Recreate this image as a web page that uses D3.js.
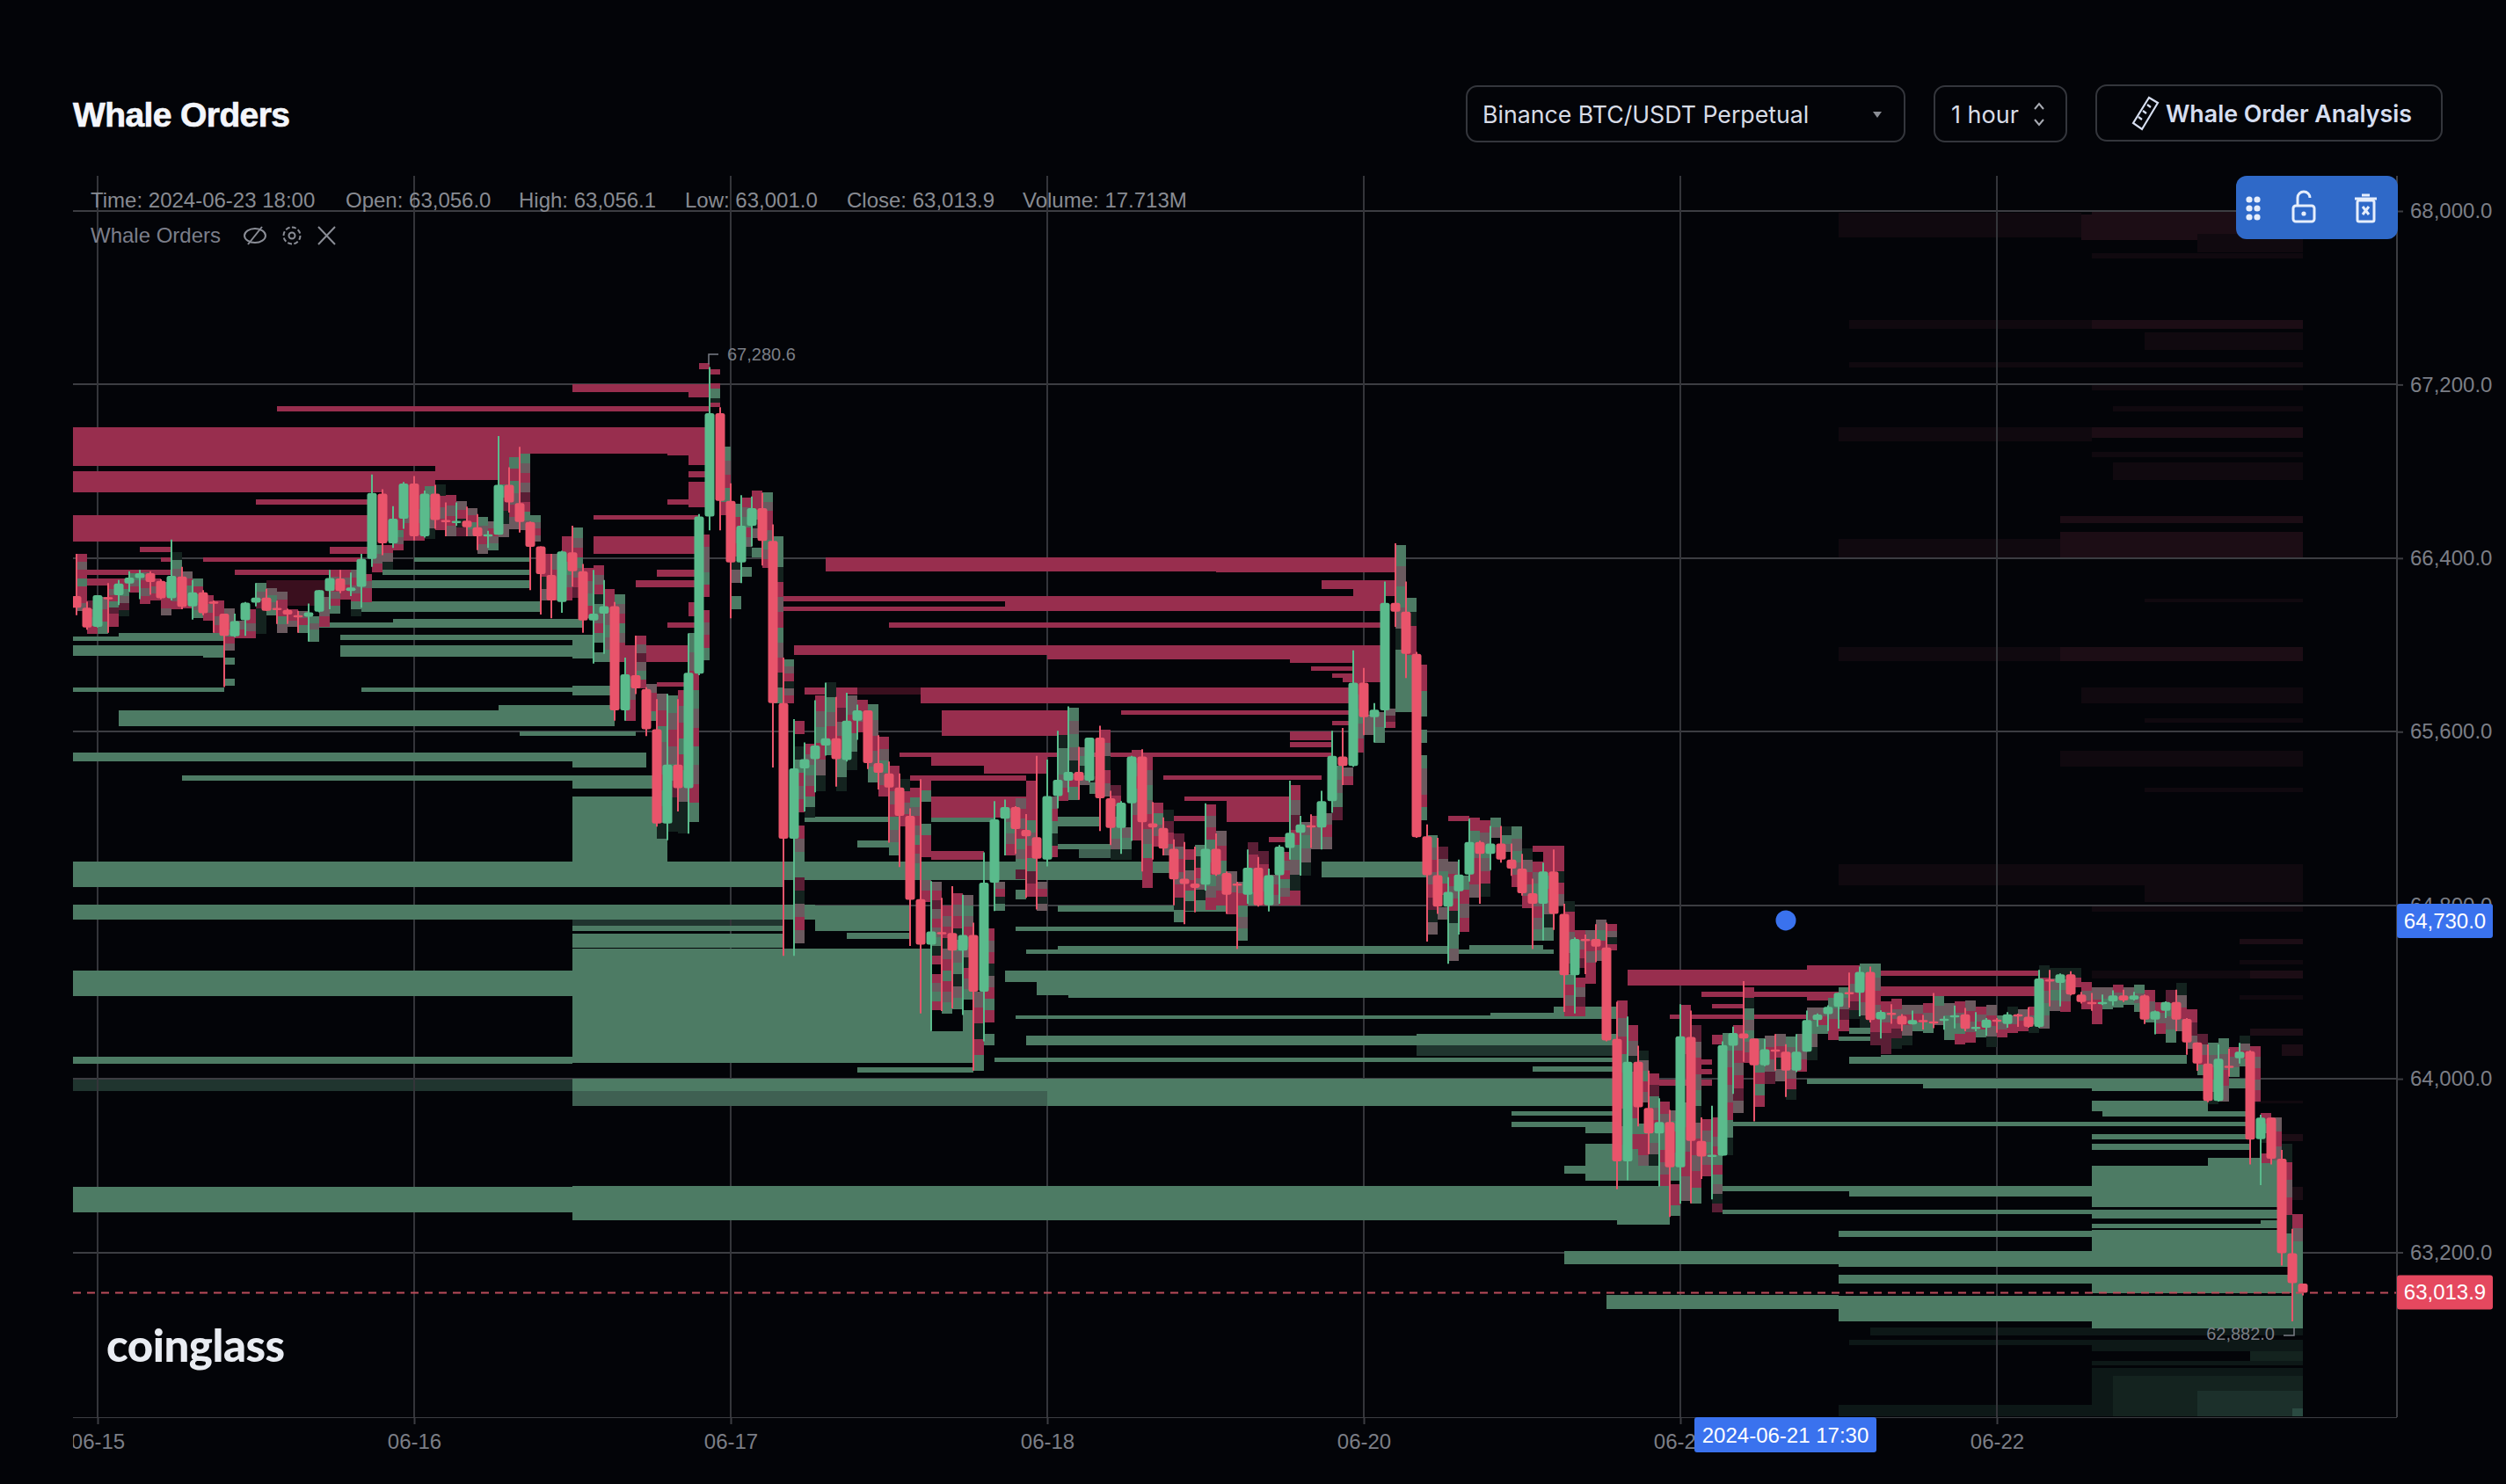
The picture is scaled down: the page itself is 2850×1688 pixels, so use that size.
<!DOCTYPE html>
<html>
<head>
<meta charset="utf-8">
<title>Whale Orders</title>
<script src="https://d3js.org/d3.v7.min.js"></script>
<style>
  html, body { margin: 0; background: #030408; }
  text { font-family: "Liberation Sans", sans-serif; }
</style>
</head>
<body>
<div id="chart"></div>
<script>
// date ticks sit on these bars, the feed skips 06-19
const tickLabels = ["06-15", "06-16", "06-17", "06-18", "06-20", "06-21", "06-22"];
const tickBars = [2, 32, 62, 92, 122, 152, 182];
const priceTicks = [68000, 67200, 66400, 65600, 64800, 64000, 63200];

// open, high, low, close, one row per bar
const candles = [
[66225,66420,66137,66171],[66171,66200,66070,66080],[66083,66229,66080,66229],[66220,66285,66056,66210],[66229,66299,66184,66283],
[66283,66340,66245,66310],[66308,66346,66211,66330],[66330,66340,66231,66290],[66295,66302,66211,66215],[66215,66485,66205,66318],
[66315,66360,66164,66175],[66177,66299,66117,66242],[66242,66252,66137,66146],[66200,66205,66056,66190],[66144,66144,65806,66042],
[66040,66144,66036,66110],[66114,66198,66042,66195],[66195,66285,66177,66218],[66218,66258,66157,66157],[66170,66204,66096,66160],
[66161,66167,66096,66140],[66137,66157,66056,66130],[66130,66191,66015,66150],[66153,66252,66150,66252],[66248,66346,66164,66308],
[66306,66346,66238,66248],[66248,66333,66225,66265],[66268,66420,66171,66396],[66396,66785,66360,66700],[66697,66717,66414,66468],
[66468,66639,66447,66582],[66582,66751,66535,66744],[66744,66778,66481,66501],[66501,66711,66495,66697],[66697,66738,66535,66576],
[66576,66657,66501,66569],[66566,66657,66549,66572],[66573,66637,66501,66542],[66542,66603,66437,66501],[66504,66526,66447,66510],
[66508,66963,66508,66738],[66738,66819,66610,66657],[66654,66913,66518,66566],[66566,66569,66252,66452],[66454,66454,66140,66326],
[66322,66420,66123,66205],[66198,66434,66148,66431],[66427,66549,66269,66340],[66340,66373,66056,66113],[66113,66346,65914,66144],
[66144,66299,65959,66178],[66178,66198,65651,65698],[65698,65941,65651,65864],[65860,66043,65773,65800],[65797,65805,65580,65611],
[65611,65750,65162,65177],[65177,65774,65100,65448],[65448,65750,65232,65340],[65340,66053,65130,65872],[65867,66603,65860,66592],
[66592,67280.6,66528,67068],[67068,67095,66528,66664],[66664,66745,66123,66380],[66380,66690,66285,66549],[66549,66684,66454,66630],
[66630,66700,66366,66479],[66479,66555,65435,65732],[65732,65941,64567,65107],[65107,65658,64567,65431],[65431,65550,65232,65473],
[65473,65745,65320,65536],[65536,65826,65490,65570],[65570,65760,65347,65473],[65469,65779,65462,65651],[65651,65725,65563,65698],
[65698,65698,65428,65455],[65455,65584,65334,65411],[65408,65462,65088,65343],[65343,65408,64976,65212],[65212,65246,64612,64825],
[64828,65381,64301,64618],[64618,64911,64220,64679],[64676,64834,64312,64668],[64672,64888,64325,64591],[64591,64848,64294,64663],
[64663,64720,64038,64402],[64402,65044,64173,64904],[64904,65280,64773,65196],[65199,65287,65030,65253],[65253,65257,65037,65151],
[65147,65220,64834,65118],[65114,65489,64780,65014],[65010,65471,64979,65303],[65303,65604,65246,65378],[65374,65716,65320,65415],
[65415,65530,65286,65374],[65374,65573,65367,65573],[65573,65627,65142,65293],[65293,65327,65077,65156],[65156,65280,65037,65273],
[65270,65489,65097,65486],[65486,65519,64956,65183],[65178,65276,65010,65158],[65156,65205,65030,65061],[65060,65104,64800,64919],
[64922,65091,64713,64898],[64900,65070,64767,64880],[64895,65270,64868,65060],[65060,65131,64935,64942],[64949,64956,64760,64848],
[64900,64908,64598,64895],[64848,65057,64807,64973],[64973,65023,64794,64800],[64800,64969,64771,64938],[64938,65077,64807,65070],
[65064,65374,65010,65134],[65134,65212,64936,65172],[65168,65219,65064,65160],[65158,65327,65057,65280],[65280,65604,65226,65489],
[65486,65617,65354,65442],[65442,65975,65438,65826],[65826,65894,65584,65667],[65667,65732,65550,65701],[65698,66292,65617,66194],
[66194,66468,66083,66153],[66153,66292,65847,65959],[65959,65968,65111,65114],[65118,65172,64632,64938],[64938,65111,64760,64794],
[64794,64929,64530,64861],[64865,65010,64665,64942],[64942,65199,64909,65091],[65091,65098,64807,65037],[65037,65165,64962,65084],
[65084,65165,64996,65010],[65010,65084,64935,64969],[64969,65037,64844,64855],[64855,64922,64598,64807],[64807,64996,64638,64956],
[64956,65057,64686,64760],[64760,64807,64308,64477],[64477,64652,64301,64645],[64645,64665,64483,64638],[64645,64713,64537,64609],
[64605,64720,64173,64177],[64184,64355,63491,63619],[63619,64287,63532,64078],[64078,64152,63781,63869],[63866,64038,63653,63748],
[63748,63910,63504,63801],[63801,63856,63363,63592],[63592,64344,63424,64196],[64193,64314,63426,63714],[63714,63822,63538,63642],
[63645,63876,63444,63650],[63646,64173,63646,64155],[64152,64240,63930,64211],[64209,64450,64078,64186],[64186,64186,63804,64062],
[64062,64184,64058,64136],[64135,64206,64038,64130],[64125,64159,63916,64038],[64038,64206,64031,64125],[64125,64314,64125,64271],
[64271,64301,64240,64296],[64298,64339,64220,64332],[64332,64396,64231,64396],[64400,64490,64328,64392],[64396,64517,64288,64493],
[64493,64517,64260,64271],[64274,64315,64186,64308],[64304,64344,64254,64297],[64290,64298,64220,64251],[64251,64314,64251,64271],
[64271,64294,64227,64266],[64265,64395,64233,64258],[64269,64289,64226,64277],[64284,64338,64232,64293],[64297,64327,64219,64230],
[64232,64307,64219,64239],[64235,64280,64199,64273],[64273,64280,64212,64265],[64253,64307,64235,64297],[64297,64300,64239,64292],
[64286,64330,64235,64239],[64239,64502,64235,64462],[64458,64502,64334,64449],[64442,64486,64334,64482],[64482,64496,64384,64388],
[64388,64401,64347,64354],[64354,64395,64313,64349],[64349,64388,64340,64354],[64357,64408,64338,64384],[64384,64411,64354,64361],
[64365,64401,64361,64384],[64384,64388,64253,64273],[64273,64314,64205,64311],[64313,64357,64280,64354],[64354,64411,64219,64273],
[64276,64280,64111,64168],[64168,64168,64037,64070],[64070,64158,63892,63898],[63898,64158,63895,64093],[64060,64138,64010,64050],
[64095,64165,64070,64125],[64127,64131,63605,63720],[63722,63834,63510,63821],[63821,63821,63605,63632],[63632,63672,63139,63196],
[63196,63308,62882,63058],[63056,63056.1,63001,63013.9]
];

// whale orders: start bar, end bar, top price, bottom price
const redOrders = [
[47,60,67200,67167],[58,60,67167,67141],[19,60,67101,67077],[59,60,67300,67270],
[-1,60,67004,66882],[-1,43,66882,66825],[34,43,66882,66758],[-1,34,66801,66704],[29,33,66704,66480],
[-1,28,66598,66477],[17,28,66670,66647],[6,9,66452,66427],[24,28,66452,66420],[12,27,66404,66383],[8,9,66404,66383],
[15,24,66346,66323],[1,9,66346,66323],[0,5,66306,66275],
[56,60,66882,66873],[58,60,66873,66830],[58,60,66801,66771],[58,60,66751,66634],[56,58,66670,66647],
[49,59,66596,66576],[49,59,66501,66420],[55,59,66346,66315],[53,59,66299,66265],[58,59,66198,66130],[56,59,66103,66080],
[52,58,65999,65921],[55,58,65829,65806],
[71,125,66404,66340],[108,125,66340,66333],[67,88,66224,66201],[67,88,66178,66155],[88,124,66224,66155],
[118,125,66299,66258],[121,125,66258,66225],[77,124,66103,66080],
[68,124,65998,65953],[92,124,65953,65935],[115,124,65935,65918],[117,121,65901,65880],[119,121,65867,65847],[120,121,65847,65826],[121,124,65918,65826],
[80,121,65804,65732],[69,74,65804,65772],[99,121,65697,65679],[82,95,65698,65581],[119,121,65651,65628],
[115,119,65600,65561],[115,119,65552,65530],[78,119,65503,65482],[81,92,65482,65441],[86,92,65441,65408],
[103,118,65397,65377],[79,90,65398,65374],[90,91,65374,65190],[81,91,65300,65205],[81,86,65050,65010],
[105,115,65300,65280],[109,115,65280,65185],[104,107,65212,65188],[113,115,65114,65091],[130,132,65212,65188],[138,141,65073,65046],
[147,169,64501,64429],[164,169,64524,64501],[154,168,64402,64379],[164,167,64379,64362],
[171,186,64426,64381],[171,186,64500,64476],[155,158,64346,64324],[151,164,64298,64274],[155,157,64202,64159],
[154,155,64088,64065],[154,155,64044,64022],[150,155,63997,63966]
];
const greenOrders = [
[4,14,66053,66019],[-1,4,66040,66019],[-1,14,65999,65951],[12,14,65951,65941],[-1,14,65803,65782],
[4,51,65700,65627],[40,51,65724,65700],[32,43,66402,66383],[29,43,66346,66323],[28,43,66296,66261],[27,44,66202,66153],
[30,48,66120,66103],[23,48,66103,66080],[25,47,66045,66022],[25,47,65997,65944],[47,49,66045,65937],
[27,47,65802,65782],[47,51,65812,65768],[42,53,65600,65580],[-1,47,65503,65464],[47,54,65503,65433],
[10,47,65397,65376],[47,55,65397,65337],[47,56,65301,65002],
[-1,67,65002,64883],[67,101,65002,64915],[101,104,65002,64950],[118,128,65003,64930],
[-1,70,64802,64735],[69,79,64800,64775],[70,79,64775,64680],[47,67,64705,64681],[47,67,64669,64604],
[73,79,64672,64645],[47,81,64601,64220],[47,85,64220,64072],[-1,47,64500,64382],[-1,47,64103,64071],
[47,146,64000,63943],[92,146,63943,63876],[74,85,64055,64030],
[-1,47,63503,63383],[47,151,63504,63349],[146,151,63349,63326],
[69,77,65206,65183],[81,87,65206,65183],[93,97,65206,65165],[74,78,65097,65068],[93,98,65084,65060],
[93,110,64800,64771],[89,110,64703,64680],[90,140,64598,64574],[93,130,64612,64598],[132,139,64618,64598],
[88,141,64500,64445],[91,141,64445,64387],[94,141,64387,64372],[89,146,64294,64274],[134,146,64305,64294],
[90,146,64198,64155],[127,146,64208,64198],[140,146,64331,64304],[87,146,64098,64078],[138,146,64056,64031],
[136,146,63849,63829],[136,146,63801,63779],[143,146,63779,63748],[143,152,63700,63532],[141,143,63599,63563],
[168,171,64234,64207],[167,170,64193,64173],
[168,200,64103,64069],[171,200,64110,64103],[164,206,64000,63977],[175,206,63977,63955],[191,202,63955,63945],
[191,202,63899,63852],[192,206,63852,63828],[157,206,63800,63780],[191,206,63746,63722],[191,206,63699,63672],
[202,209,63634,63601],[191,209,63601,63409],[156,191,63504,63480],[168,191,63480,63457],
[156,209,63398,63375],[191,209,63375,63358],[207,209,63348,63312],[191,209,63331,63312],
[167,191,63301,63270],[191,210,63304,63132],[141,167,63207,63145],[167,191,63207,63132],[167,191,63098,63058],
[191,210,63098,63011],[210,211,63200,62890],[145,167,63003,62939],[167,191,63000,62880],[191,211,63000,62849]
];
// same orders after most of the size got pulled
const fadedGreenOrders = [[47,92,63943,63876],[95,98,65060,65017]];
const darkGreenOrders = [[-1,47,64000,63943],[47,67,64735,64705],[127,146,64155,64107]];
const darkRedOrders = [[74,80,65804,65772],[18,24,66300,66215],[20,23,66215,66180]];

// bar, top price, bottom price, colour stripes from top to bottom (r g m d k, _ is empty)
const orderCells = [
[0,66420,66157,"rmrgrrm"],[1,66205,66050,"dmgr"],[2,66220,66050,"mrg"],[3,66285,66085,"rmrgdrr"],[4,66290,66130,"rgmdk"],
[5,66330,66240,"gmr"],[6,66333,66190,"mrmr"],[7,66305,66205,"rmr"],[8,66290,66137,"gmrrm"],[9,66427,66165,"kgmrrmr"],
[10,66340,66170,"mrgmr"],[11,66306,66125,"grgmg"],[12,66230,66110,"rmr"],[13,66205,66056,"rrmr"],[14,66170,65813,"mmrgrm_g__g"],
[15,66110,66030,"mr"],[16,66165,66030,"rrmr"],[17,66285,66050,"gmdkkk"],[18,66260,66135,"mgmg"],[19,66245,66056,"mrrgm"],
[20,66165,66085,"rrm"],[21,66157,66056,"mrg"],[22,66130,66015,"gmgg"],[23,66220,66085,"mmr"],[24,66346,66145,"rmrmrg"],
[25,66346,66210,"rmrr"],[26,66346,66130,"mrmrgk"],[27,66326,66197,"rmrr"],[28,66460,66333,"gmr"],[29,66460,66347,"rmk"],
[30,66530,66434,"gmr"],[31,66596,66530,"mr"],[32,66758,66495,"rrmr"],[33,66731,66490,"gmgmk"],[34,66738,66530,"krmr"],
[35,66690,66500,"rmrm"],[36,66663,66500,"mrkd"],[37,66630,66500,"mrgm"],[38,66590,66420,"gmrm"],[39,66570,66434,"mrmg"],
[40,66860,66495,"rrgdkm"],[41,66866,66535,"grgmrm"],[42,66880,66528,"gmrmdrgm"],[43,66596,66475,"gmrm"],[44,66420,66205,"rrkm"],
[45,66420,66205,"mrr"],[46,66500,66205,"rrgmr"],[47,66540,66218,"gmrgmrd"],[48,66353,66123,"rmgr"],[49,66366,65921,"rmrkgmrg_g"],
[50,66258,65921,"rrmgmg"],[51,66232,65921,"gmrgmrr"],[52,65941,65651,"rmr"],[53,66043,65800,"rmdmgr"],[54,65820,65650,"mrrg"],
[55,65774,65107,"mrgmmrgmk"],[56,65766,65139,"gmrmgdkk"],[57,65790,65130,"rmrgrgmkk"],[58,66053,65185,"gmrgmrgmrg"],[59,66510,65930,"rmmgr_rmrg"],
[60,67270,67095,"r__rggkr"],[61,66913,66596,"gmrgr"],[62,66650,66165,"grmrkm_g"],[63,66680,66315,"rmgrmk_g"],[64,66710,66405,"rrgkm_g"],
[65,66704,66353,"gmrrmgmr"],[66,66500,65732,"ggkrmrgmrkg"],[67,65935,65732,"gmrkmr"],[68,65651,64625,"r_kgrmr_rmg_dkmrm"],[69,65543,65205,"rmgmrgk"],
[70,65766,65327,"rmgrmk"],[71,65826,65490,"kgmrg"],[72,65772,65327,"rdmrggk"],[73,65766,65421,"mrgk"],[74,65745,65597,"rmr"],
[75,65725,65367,"gmrmg"],[76,65577,65300,"rmgmr"],[77,65442,65030,"rrmrgmg"],[78,65381,65165,"krmr"],[79,65340,64950,"rgmrmgrmg"],
[80,65381,64814,"rg__grr__mr"],[81,64908,64315,"mrdmrmgkr_rmgr"],[82,64800,64301,"rmrkmrgrmg"],[83,64855,64321,"rmrkgmgkmg"],[84,64848,64220,"mgmrgmkrmg_gg"],
[85,64402,64038,"mrkrg"],[86,64692,64153,"rmrkmrgr_g"],[87,64908,64773,"mrkg"],[88,65287,65030,"rmgmr"],[89,65293,64827,"mrmrgmgd_g"],
[90,65192,64841,"gmrgdr"],[91,64908,64773,"mrkm"],[92,65300,65020,"mrgkr"],[93,65584,65280,"kggmr"],[94,65712,65286,"gmgmkrg"],
[95,65530,65354,"mgkm"],[96,65394,65313,"kgg"],[97,65610,65300,"rmkrm"],[98,65354,65010,"drkmgmk"],[99,65158,65010,"mgk"],
[100,65516,65097,"rmrgmrr"],[101,65489,64881,"rmgmrmgrr"],[102,65273,65070,"rgmr"],[103,65240,65030,"kdrm"],[104,65130,64720,"dmrmrkg"],
[105,65057,64773,"rkmrgk"],[106,65077,64770,"gkrmkg"],[107,65266,64780,"rmrgmrgmr"],[108,65145,64800,"mrgmr"],[109,64956,64760,"mr"],
[110,64908,64638,"mrgmg"],[111,65090,64800,"drmrg"],[112,65050,64800,"drmr"],[113,64942,64800,"mrm"],[114,65044,64800,"rmrgmr"],
[115,65354,64800,"rmdrgmkr"],[116,65185,64936,"mgmk"],[117,65212,65057,"rmm"],[118,65226,65057,"mrm"],[119,65442,65192,"gmgd"],
[120,65435,65354,"mr"],[121,65840,65503,"rmgmr"],[122,65678,65584,"mm"],[123,65692,65550,"mg"],[124,65705,65617,"mdr"],
[125,66461,65691,"gmgmkggg"],[126,66218,65691,"gkrrgggg"],[127,65907,65192,"rrgg_g_gmmrg"],[128,65124,64665,"gmrmrdkm"],[129,65070,64733,"dmgrkm"],
[130,65003,64544,"mrmrkggm"],[131,64936,64679,"grmr"],[132,65205,64834,"rgmrrm"],[133,65192,64841,"rmgmrk"],[134,65205,65111,"gm"],
[135,65165,65044,"kgm"],[136,65165,64882,"gmgmr"],[137,65064,64787,"kmrmr"],[138,65003,64638,"rmgmrmg"],[139,65057,64638,"rrgrmkg"],
[140,65064,64800,"rrkrm"],[141,64820,64290,"krrmmd_grmr"],[142,64686,64290,"rmrd_rmdr"],[143,64686,64436,"mrmrr"],[144,64733,64544,"mgrm"],
[145,64713,64591,"rmkr"],[146,64362,63532,"rmrgmrkmgg"],[147,64247,63532,"rmkrrrgr_g"],[148,64132,63600,"kmgrm__grrm"],[149,64024,63599,"rdgmrgmk"],
[150,63896,63504,"rmggrmr"],[151,63856,63370,"mgrrm__rrg"],[152,64342,63437,"rrd_gmrm"],[153,64247,63424,"dmrmgkmrmrg"],[154,63815,63552,"rmgmr"],
[155,63822,63383,"rrmrgrgmkd"],[156,64213,63646,"gmrmrgk"],[157,64247,63842,"rmrmrdm"],[158,64423,64072,"rkgmgmr"],[159,64186,63869,"gmgrgr"],
[160,64200,63977,"mrmd"],[161,64206,63990,"mrkm"],[162,64193,63903,"gmrmrk"],[163,64206,64031,"mmr"],[164,64328,64085,"mgmk"],
[165,64328,64207,"mrg"],[166,64375,64180,"gmrr"],[167,64423,64220,"gmdr"],[168,64436,64274,"mrdk"],[169,64530,64234,"gmrmk"],
[170,64530,64153,"gmrmrd"],[171,64355,64112,"rmrdd"],[172,64368,64139,"rmrdk"],[173,64342,64153,"mrmk"],[174,64342,64220,"mrg"],
[175,64350,64213,"rmg"],[176,64382,64247,"gmm"],[177,64350,64180,"mgg"],[178,64355,64160,"rmgr"],[179,64360,64165,"mrmr"],
[180,64333,64192,"rmrg"],[181,64340,64145,"mrmk"],[182,64293,64192,"gmr"],[183,64333,64212,"kmr"],[184,64320,64219,"mr"],
[185,64333,64212,"rmk"],[186,64523,64232,"krmgm"],[187,64510,64313,"kmgm"],[188,64510,64307,"kgmr"],[189,64510,64420,"kr"],
[190,64448,64320,"rmr"],[191,64421,64253,"mrr"],[192,64421,64320,"mg"],[193,64435,64327,"rmg"],[194,64421,64340,"mg"],
[195,64435,64307,"gmg"],[196,64408,64260,"rmg"],[197,64354,64205,"rmr"],[198,64408,64165,"dgmg"],[199,64442,64219,"kmrm"],
[200,64320,64138,"rdm"],[201,64205,64017,"dmrg"],[202,64165,63881,"gmrgk"],[203,64185,63895,"gmrm"],[204,64145,64010,"rmg"],
[205,64199,64057,"kmrg"],[206,64151,63895,"rmrmr"],[207,63841,63612,"rgk_r"],[208,63821,63625,"mrm"],[209,63699,63207,"krmrkg"],
[210,63375,63186,"rmg"]
];

// old orders that are almost gone, drawn under the grid. last field picks the shade
const faintOrders = [
[167,190,67993,67879,"a"],[190,211,67984,67865,"b"],[201,211,67895,67811,"a"],[191,211,68000,67977,"b"],[191,211,67804,67781,"a"],
[168,191,67498,67457,"a"],[191,211,67498,67459,"b"],[196,211,67440,67361,"a"],[168,211,67303,67279,"a"],[191,211,67198,67174,"a"],
[193,211,67101,67077,"a"],[167,191,67004,66939,"a"],[191,211,67004,66955,"b"],[191,211,66890,66866,"a"],[193,211,66842,66761,"a"],
[188,211,66594,66560,"b"],[188,211,66520,66396,"b"],[167,188,66490,66396,"a"],[196,211,66212,66195,"a"],[167,188,65990,65925,"a"],[188,211,65990,65925,"b"],
[190,211,65805,65730,"a"],[196,211,65660,65640,"a"],[188,211,65510,65440,"a"],[196,211,65340,65320,"a"],[167,211,64990,64890,"a"],
[196,211,64890,64815,"a"],[191,211,64798,64771,"a"],[205,211,64646,64620,"b"],[205,211,64549,64528,"a"],[191,211,64500,64462,"a"],
[206,211,64500,64462,"b"],[205,211,64387,64367,"a"],[206,211,64232,64199,"b"],[209,211,64158,64105,"b"],[206,211,63900,63885,"a"],
[209,211,63746,63712,"b"],[210,211,63503,63443,"b"],[210,211,63368,63274,"a"],
[170,211,62852,62816,"c"],[168,211,62798,62772,"c"],[191,211,62772,62745,"c"],[206,211,62745,62700,"d"],[191,211,62700,62679,"c"],
[191,211,62669,62443,"c"],[193,211,62630,62443,"d"],[201,211,62615,62580,"d"],[201,211,62560,62443,"e"],[206,211,62530,62443,"e"],[210,211,62480,62443,"f"],[167,191,62496,62443,"c"]
];

const lastPrice = 63013.9;
const hoverPrice = 64730;
const hoverBar = 162;
const hoverTime = "2024-06-21 17:30";
const highLabel = "67,280.6";
const lowLabel = "62,882.0";
const infoItems = ["Time: 2024-06-23 18:00", "Open: 63,056.0", "High: 63,056.1", "Low: 63,001.0", "Close: 63,013.9", "Volume: 17.713M"];
const infoX = [103, 393, 590, 779, 963, 1163];

const cellColor = { r: "#982e4e", g: "#4d7b64", m: "#6b5a5f", d: "#5a1e35", k: "#14231f" };
const faintColor = { a: "#10090f", b: "#1c0d15", c: "#0d1817", d: "#14231f", e: "#1c302b", f: "#2a4a41" };

const W = 2850, H = 1688;
const plot = { left: 83, right: 2726, top: 200, bottom: 1612 };

const svg = d3.select("#chart").append("svg").attr("width", W).attr("height", H).style("display", "block");
svg.append("rect").attr("width", W).attr("height", H).attr("fill", "#030408");

const defs = svg.append("defs");
defs.append("clipPath").attr("id", "plotClip").append("rect")
  .attr("x", plot.left).attr("y", plot.top).attr("width", plot.right - plot.left).attr("height", plot.bottom - plot.top);
defs.append("clipPath").attr("id", "axisClip").append("rect")
  .attr("x", plot.left).attr("y", plot.bottom).attr("width", plot.right - plot.left).attr("height", 70);

const x = d3.scaleLinear().domain([0, 211]).range([87, 2619]);
const y = d3.scaleLinear().domain([68000, 63200]).range([240, 1424.5]);

function drawOrders(g, rows, color) {
  g.selectAll(null).data(rows).join("rect")
    .attr("x", d => x(d[0])).attr("width", d => x(d[1]) - x(d[0]))
    .attr("y", d => y(d[2])).attr("height", d => y(d[3]) - y(d[2]))
    .attr("fill", color).attr("shape-rendering", "crispEdges");
}

const plotG = svg.append("g").attr("clip-path", "url(#plotClip)");

// faint layer goes under the grid
drawOrders(plotG.append("g"), faintOrders, d => faintColor[d[4]]);
drawOrders(plotG.append("g"), darkGreenOrders, "#20352f");

const gridG = plotG.append("g");
gridG.selectAll(null).data(priceTicks).join("line")
  .attr("x1", plot.left).attr("x2", plot.right)
  .attr("y1", d => y(d)).attr("y2", d => y(d))
  .attr("stroke", "#3c3d42").attr("stroke-width", 2).attr("shape-rendering", "crispEdges");
gridG.selectAll(null).data(tickBars).join("line")
  .attr("x1", d => x(d)).attr("x2", d => x(d))
  .attr("y1", plot.top).attr("y2", plot.bottom)
  .attr("stroke", "#34353a").attr("stroke-width", 1.5).attr("shape-rendering", "crispEdges");

drawOrders(plotG.append("g"), fadedGreenOrders, "#3f6052");
drawOrders(plotG.append("g"), darkRedOrders, "#3a0f1e");
drawOrders(plotG.append("g"), greenOrders, cellColor.g);
drawOrders(plotG.append("g"), redOrders, cellColor.r);

// one bar wide cells around the candles
const cells = orderCells.flatMap(c => {
  const step = (c[1] - c[2]) / c[3].length;
  return Array.from(c[3]).map((key, k) => ({ bar: c[0], top: c[1] - k * step, bottom: c[1] - (k + 1) * step, key }));
}).filter(d => d.key !== "_");
plotG.append("g").selectAll("rect").data(cells).join("rect")
  .attr("x", d => x(d.bar)).attr("width", x(1) - x(0))
  .attr("y", d => y(d.top)).attr("height", d => y(d.bottom) - y(d.top))
  .attr("fill", d => cellColor[d.key]).attr("shape-rendering", "crispEdges");

// candles
const candleG = plotG.append("g");
const upColor = "#5abb8c", downColor = "#e9546b";
const color = d => d[3] >= d[0] ? upColor : downColor;
candleG.selectAll("line").data(candles).join("line")
  .attr("x1", (d, i) => x(i)).attr("x2", (d, i) => x(i))
  .attr("y1", d => y(d[1])).attr("y2", d => y(d[2]))
  .attr("stroke", color).attr("stroke-width", 2);
candleG.selectAll("rect").data(candles).join("rect")
  .attr("x", (d, i) => x(i) - 5.5).attr("width", 11)
  .attr("y", d => y(Math.max(d[0], d[3])))
  .attr("height", d => Math.max(2.5, Math.abs(y(d[0]) - y(d[3]))))
  .attr("rx", 2.5).attr("fill", color);

// last price line
plotG.append("line")
  .attr("x1", plot.left).attr("x2", plot.right)
  .attr("y1", y(lastPrice)).attr("y2", y(lastPrice))
  .attr("stroke", "#bb4c5a").attr("stroke-width", 2).attr("stroke-dasharray", "9 7");

// axes
const fmt = d3.format(",.1f");
const yAxis = svg.append("g").attr("transform", `translate(${plot.right},0)`)
  .call(d3.axisRight(y).tickValues(priceTicks).tickFormat(fmt).tickSize(7).tickPadding(8));
yAxis.select(".domain").attr("stroke", "#3c3d42").attr("stroke-width", 2)
  .attr("d", `M0,${plot.top}V${plot.bottom}`);
yAxis.selectAll(".tick line").attr("stroke", "#3c3d42").attr("stroke-width", 2);
yAxis.selectAll("text").attr("fill", "#7b7e86").style("font-size", "24px").style("font-family", "'Liberation Sans'");

const xAxisWrap = svg.append("g").attr("clip-path", "url(#axisClip)");
const xAxis = xAxisWrap.append("g").attr("transform", `translate(0,${plot.bottom})`)
  .call(d3.axisBottom(x).tickValues(tickBars).tickFormat((d, i) => tickLabels[i]).tickSize(8).tickPadding(11));
xAxis.select(".domain").attr("d", `M${plot.left},0H${plot.right}`).attr("stroke", "#3c3d42").attr("stroke-width", 2);
xAxis.selectAll(".tick line").attr("stroke", "#3c3d42").attr("stroke-width", 2);
xAxis.selectAll("text").attr("fill", "#7b7e86").style("font-size", "24px").style("font-family", "'Liberation Sans'");

// high and low notes
function note(txt, tx, ty, anchor) {
  svg.append("text").attr("x", tx).attr("y", ty).attr("text-anchor", anchor)
    .attr("fill", "#7b7e86").style("font-size", "20px").text(txt);
}
note(highLabel, 827, 410, "start");
note(lowLabel, 2587, 1524, "end");
svg.append("path").attr("d", `M817,403H806V${y(67280.6) - 3}`).attr("fill", "none").attr("stroke", "#7b7e86").attr("stroke-width", 1.5);
svg.append("path").attr("d", "M2597,1519H2609V1510").attr("fill", "none").attr("stroke", "#7b7e86").attr("stroke-width", 1.5);

// crosshair bits
svg.append("circle").attr("cx", x(hoverBar)).attr("cy", y(hoverPrice)).attr("r", 11.5).attr("fill", "#3a72ee");
function tag(bx, by, bw, bh, fill, txt) {
  svg.append("rect").attr("x", bx).attr("y", by).attr("width", bw).attr("height", bh).attr("rx", 3).attr("fill", fill);
  svg.append("text").attr("x", bx + bw / 2).attr("y", by + bh / 2 + 8.5).attr("text-anchor", "middle")
    .attr("fill", "#fff").style("font-size", "24px").text(txt);
}
tag(plot.right, y(hoverPrice) - 19, 109, 39, "#3a72ee", fmt(hoverPrice));
tag(plot.right, y(lastPrice) - 20, 109, 39, "#e5485f", fmt(lastPrice));
tag(1927, plot.bottom, 207, 40, "#3a72ee", hoverTime);

// header
svg.append("text").attr("x", 83).attr("y", 144).attr("fill", "#f4f6fb").attr("stroke", "#f4f6fb").attr("stroke-width", 0.7)
  .style("font-size", "39px").style("font-weight", 700).style("letter-spacing", "-0.6px").text("Whale Orders");

function box(bx, by, bw, bh) {
  svg.append("rect").attr("x", bx).attr("y", by).attr("width", bw).attr("height", bh).attr("rx", 12)
    .attr("fill", "none").attr("stroke", "#34363c").attr("stroke-width", 2);
}
box(1668, 98, 498, 63);
box(2200, 98, 150, 63);
box(2384, 97, 393, 63);
const uiFont = "Inter, 'Liberation Sans'";
svg.append("text").attr("x", 1686).attr("y", 140).attr("fill", "#d8dce6").style("font-family", uiFont).style("font-size", "26.7px").text("Binance BTC/USDT Perpetual");
svg.append("path").attr("d", "M2130,127h10l-5,7z").attr("fill", "#8a8d94");
svg.append("text").attr("x", 2219).attr("y", 140).attr("fill", "#d8dce6").style("font-family", uiFont).style("font-size", "27px").text("1 hour");
svg.append("path").attr("d", "M2314,124l5,-6l5,6M2314,136l5,6l5,-6").attr("fill", "none").attr("stroke", "#a7aab2").attr("stroke-width", 2);
svg.append("text").attr("x", 2463).attr("y", 139).attr("fill", "#d6def0").style("font-family", uiFont).style("font-weight", 600).style("font-size", "26.8px").text("Whale Order Analysis");
// ruler icon
svg.append("path").attr("d", "M2426,140l18,-29l10,6l-18,30z M2437,126l4,3 M2432,133l4,3 M2442,119l4,3")
  .attr("fill", "none").attr("stroke", "#d6def0").attr("stroke-width", 2.2);

// info lines
infoItems.forEach((t, i) => {
  svg.append("text").attr("x", infoX[i]).attr("y", 236).attr("fill", "#888b92").style("font-size", "24px").text(t);
});
svg.append("text").attr("x", 103).attr("y", 276).attr("fill", "#7b7e8a").style("font-size", "24px").text("Whale Orders");
const iconG = svg.append("g").attr("fill", "none").attr("stroke", "#8a8d96").attr("stroke-width", 2);
iconG.append("ellipse").attr("cx", 290).attr("cy", 268).attr("rx", 12).attr("ry", 8);
iconG.append("path").attr("d", "M282,278L298,258");
iconG.append("circle").attr("cx", 332).attr("cy", 268).attr("r", 3.5);
iconG.append("circle").attr("cx", 332).attr("cy", 268).attr("r", 9.5).attr("stroke-dasharray", "5 2.4");
iconG.append("path").attr("d", "M362,258L381,278M381,258L362,278");

// floating toolbar
svg.append("rect").attr("x", 2543).attr("y", 200).attr("width", 184).attr("height", 72).attr("rx", 12).attr("fill", "#2f69c8");
const toolG = svg.append("g").attr("fill", "#e6eefc");
[[2558, 227], [2567, 227], [2558, 237], [2567, 237], [2558, 247], [2567, 247]].forEach(p => {
  toolG.append("circle").attr("cx", p[0]).attr("cy", p[1]).attr("r", 3.6);
});
const toolLine = svg.append("g").attr("fill", "none").attr("stroke", "#e6eefc").attr("stroke-width", 3);
toolLine.append("rect").attr("x", 2608).attr("y", 234).attr("width", 24).attr("height", 18).attr("rx", 3);
toolLine.append("path").attr("d", "M2613,233v-8a7,7 0 0 1 14,0");
toolG.append("circle").attr("cx", 2620).attr("cy", 243).attr("r", 2.6);
toolLine.append("rect").attr("x", 2681).attr("y", 228).attr("width", 19).attr("height", 24).attr("rx", 2);
toolLine.append("path").attr("d", "M2678,226h25M2686,222h9M2687,235l7,9M2694,235l-7,9");

// watermark
svg.append("text").attr("x", 121).attr("y", 1549).attr("fill", "#e9ecf2")
  .style("font-family", "Lato").style("font-weight", 900).style("font-size", "51px").style("letter-spacing", "-0.5px").text("coinglass");
</script>
</body>
</html>
